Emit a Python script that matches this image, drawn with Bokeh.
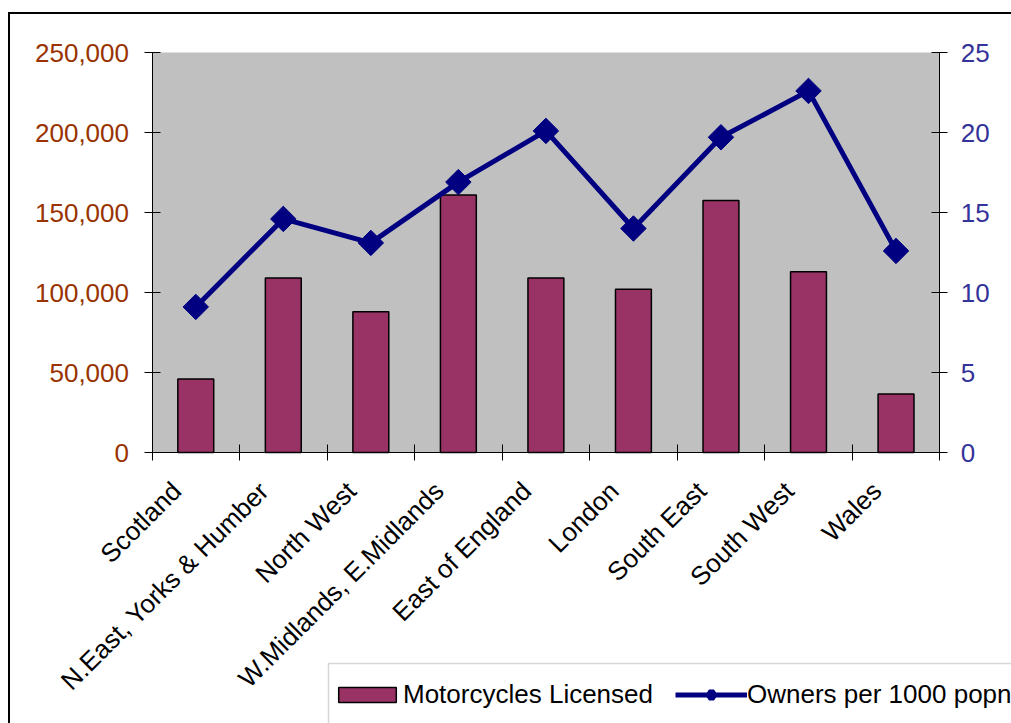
import numpy as np
from bokeh.plotting import figure
from bokeh.models import (Range1d, LinearAxis, FixedTicker, NumeralTickFormatter,
                          Legend, LegendItem, Spacer, BoxAnnotation)
from bokeh.layouts import column, row
from bokeh.embed import file_html
from bokeh.resources import INLINE

# Regional motorcycle figures
regions = ["Scotland", "N.East, Yorks & Humber", "North West",
           "W.Midlands, E.Midlands", "East of England", "London",
           "South East", "South West", "Wales"]
motorcycles_licensed = [46000, 109000, 88000, 161000, 109000, 102000, 157500, 113000, 36500]
owners_per_1000 = [9.1, 14.6, 13.1, 16.9, 20.1, 14.0, 19.7, 22.6, 12.6]
left_ticks = [0, 50000, 100000, 150000, 200000, 250000]
right_ticks = [0, 5, 10, 15, 20, 25]

FONT = "Liberation Sans"
SIZE = "26px"

n = len(regions)
centers = [i + 0.5 for i in range(n)]
label_pos = [i + 0.28 for i in range(n)]
boundaries = list(range(n + 1))

# Canvas geometry (pixels). The drawing frame fills the whole canvas so that the
# axis labels and the key can sit anywhere on it; the grey plot area is placed
# inside it at AREA_* through the data ranges.
CANVAS_W, CANVAS_H = 1001, 709
AREA_LEFT, AREA_RIGHT = 141.5, 929.3
AREA_TOP, AREA_BOTTOM = 38.0, 438.0
KEY_LEFT, KEY_TOP = 318, 649

y_max = left_ticks[-1]
r_max = right_ticks[-1]


def span(lo, hi, px_lo, px_hi, total):
    per_px = (hi - lo) / (px_hi - px_lo)
    return lo - px_lo * per_px, hi + (total - px_hi) * per_px


x0, x1 = span(0, n, AREA_LEFT, AREA_RIGHT, CANVAS_W)
yb, yt = span(0, y_max, CANVAS_H - AREA_BOTTOM, CANVAS_H - AREA_TOP, CANVAS_H)
rb, rt = span(0, r_max, CANVAS_H - AREA_BOTTOM, CANVAS_H - AREA_TOP, CANVAS_H)

p = figure(width=CANVAS_W, height=CANVAS_H,
           x_range=Range1d(x0, x1), y_range=Range1d(yb, yt),
           output_backend="svg", toolbar_location=None,
           min_border=0, min_border_left=0, min_border_right=0,
           min_border_top=0, min_border_bottom=0,
           background_fill_color="white", border_fill_color="white",
           outline_line_color=None)
p.extra_y_ranges = {"rate": Range1d(rb, rt)}
p.xgrid.visible = False
p.ygrid.visible = False

# Grey plot area
p.add_layout(BoxAnnotation(left=0, right=n, bottom=0, top=y_max,
                           fill_color="#C0C0C0", fill_alpha=1.0,
                           line_color=None, level="underlay"))

# Category axis: boundary ticks drawn as minor ticks, names on rotated labels
xa = p.xaxis[0]
xa.fixed_location = 0
xa.bounds = (0, n)
xa.ticker = FixedTicker(ticks=label_pos, minor_ticks=boundaries)
xa.major_label_overrides = {pos: name for pos, name in zip(label_pos, regions)}
xa.major_label_orientation = np.pi / 4
xa.major_tick_in = 0
xa.major_tick_out = 0
xa.major_tick_line_color = None
xa.minor_tick_in = 8
xa.minor_tick_out = 8
xa.minor_tick_line_color = "black"
xa.axis_line_color = "black"
xa.major_label_standoff = 26
xa.major_label_text_font = FONT
xa.major_label_text_font_size = SIZE
xa.major_label_text_color = "black"

# Left axis: number licensed
ya = p.yaxis[0]
ya.fixed_location = 0
ya.bounds = (0, y_max)
ya.ticker = FixedTicker(ticks=left_ticks)
ya.formatter = NumeralTickFormatter(format="0,0")
ya.major_tick_in = 8
ya.major_tick_out = 8
ya.minor_tick_line_color = None
ya.axis_line_color = "black"
ya.major_tick_line_color = "black"
ya.major_label_standoff = 15
ya.major_label_text_font = FONT
ya.major_label_text_font_size = SIZE
ya.major_label_text_color = "#993300"

# Right axis: owners per 1000 population
ra = LinearAxis(y_range_name="rate", ticker=FixedTicker(ticks=right_ticks),
                fixed_location=n, bounds=(0, r_max))
ra.major_tick_in = 8
ra.major_tick_out = 8
ra.minor_tick_line_color = None
ra.axis_line_color = "black"
ra.major_tick_line_color = "black"
ra.major_label_standoff = 13
ra.major_label_text_font = FONT
ra.major_label_text_font_size = SIZE
ra.major_label_text_color = "#333399"
p.add_layout(ra, "right")

bars = p.vbar(x=centers, top=motorcycles_licensed, width=0.41,
              fill_color="#993366", line_color="black", line_width=1.5)
line_r = p.line(centers, owners_per_1000, y_range_name="rate",
                line_color="#000080", line_width=5)
p.scatter(centers, owners_per_1000, y_range_name="rate", marker="square",
          angle=np.pi / 4, size=18, fill_color="#000080", line_color="#000080")
# diamond used for the key symbol; it sits hidden under the large markers
key_r = p.scatter(centers, owners_per_1000, y_range_name="rate", marker="diamond",
                  size=0, fill_color="#000080", line_color="#000080", line_width=6)

# Key box (screen y counts up from the bottom); it runs off the bottom and
# right edges of the chart
p.add_layout(BoxAnnotation(left=KEY_LEFT, right=CANVAS_W + 200,
                           top=CANVAS_H - KEY_TOP, bottom=-200,
                           left_units="screen", right_units="screen",
                           top_units="screen", bottom_units="screen",
                           fill_color="white", fill_alpha=1.0,
                           line_color="#777777", line_width=1.5))

legend = Legend(items=[LegendItem(label="Motorcycles Licensed", renderers=[bars]),
                       LegendItem(label="Owners per 1000 popn", renderers=[line_r, key_r])],
                orientation="horizontal", location=(KEY_LEFT + 3, 1),
                glyph_width=72, glyph_height=19, label_height=56,
                padding=3, spacing=22, label_standoff=0, margin=0,
                label_text_font=FONT, label_text_font_size=SIZE,
                label_text_color="black",
                border_line_color=None, background_fill_alpha=0.0)
p.add_layout(legend)

# Outer chart frame (top and left edges)
top_edge = Spacer(width=1003, height=2, styles={"background-color": "black"})
left_edge = Spacer(width=2, height=CANVAS_H, styles={"background-color": "black"})
page = column(Spacer(height=12),
              row(Spacer(width=8), column(top_edge, row(left_edge, p))))

open("out.html", "w").write(file_html(page, INLINE))
